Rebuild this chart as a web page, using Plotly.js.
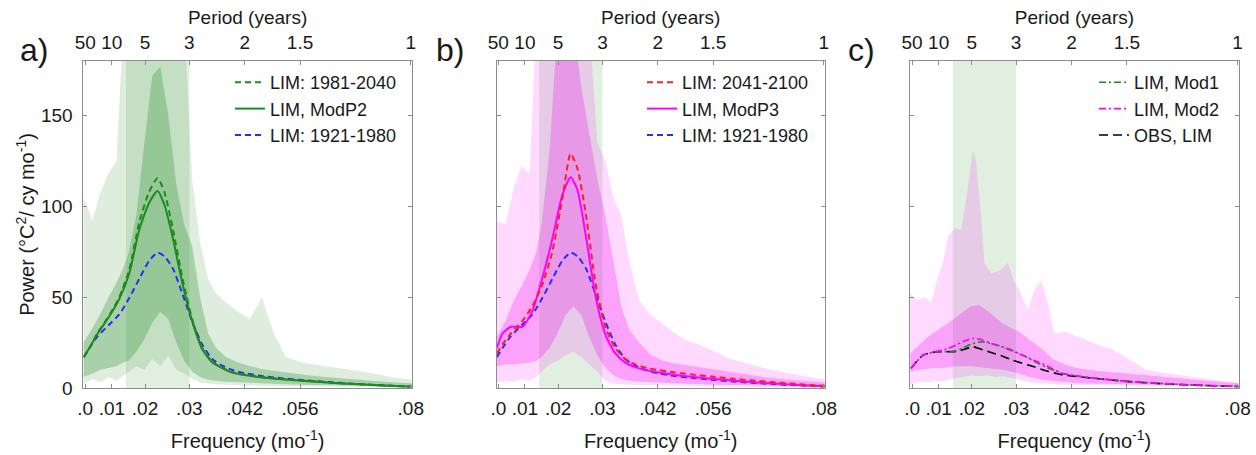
<!DOCTYPE html>
<html><head><meta charset="utf-8">
<script src="https://cdn.plot.ly/plotly-3.0.1.min.js"></script>
<style>html,body{margin:0;padding:0;background:#fff}#chart{width:1256px;height:455px}</style>
</head><body><div id="chart"></div>
<script>
// ---------- DATA ----------
const periodTicks = [50, 10, 5, 3, 2, 1.5, 1];                 // years (top axis)
const freqTickText = ['.0', '.01', '.02', '.03', '.042', '.056', '.08']; // bottom axis labels
const ensoPeriods = [7, 3];                                    // shaded 3-7 yr band

// band frequency grid (cycles / month)
const bandFreq = [0.0012, 0.0035, 0.0055, 0.0075, 0.0095, 0.0112, 0.0125, 0.0145, 0.0165, 0.0185, 0.0205, 0.0225, 0.0245, 0.0265, 0.0285, 0.0305, 0.0325, 0.0345, 0.037, 0.04, 0.043, 0.046, 0.049, 0.052, 0.056, 0.06, 0.065, 0.07, 0.075, 0.08, 0.0836];
// panel a bands
const aOuterHi = [105, 92, 108, 118, 125, 200, 200, 200, 200, 200, 200, 200, 200, 200, 115, 80, 60, 52, 47, 42, 38, 50, 30, 17, 14, 12.5, 11, 9.5, 7.5, 5.5, 4.5];
const aOuterLo = [2, 5, 3, 6, 4, 7, 9, 12, 10, 16, 12, 18, 10, 8, 5, 3, 2.5, 2, 1.8, 1.5, 1.3, 1.2, 1.1, 1, 0.9, 0.8, 0.7, 0.6, 0.5, 0.4, 0.4];
const aInnerHi = [25, 33, 41, 50, 58, 66, 74, 95, 135, 172, 177, 150, 112, 90, 78, 50, 30, 22, 17, 14, 12, 10.5, 9.5, 8.5, 7.5, 6.5, 5.5, 4.5, 3.7, 3, 2.6];
const aInnerLo = [6, 8, 10, 11, 12, 14, 15, 20, 27, 36, 42, 38, 25, 15, 9, 6, 4.5, 4, 3.5, 3, 2.7, 2.5, 2.3, 2, 1.8, 1.6, 1.4, 1.2, 1, 0.8, 0.7];
// panel b bands
const bOuterHi = [92, 90, 110, 122, 118, 200, 200, 200, 200, 200, 200, 200, 200, 135, 125, 105, 95, 70, 48, 40, 35, 30, 26, 24, 20, 16, 13, 10, 8, 6, 4.5];
const bOuterLo = [3, 4, 3.5, 5, 4, 6, 9, 13, 15, 18, 20, 17, 13, 9, 4, 2.5, 2, 1.8, 1.6, 1.4, 1.3, 1.2, 1.1, 1, 0.9, 0.8, 0.7, 0.6, 0.5, 0.4, 0.4];
const bInnerHi = [28, 37, 48, 56, 65, 75, 90, 130, 200, 200, 200, 165, 140, 115, 95, 70, 45, 32, 25, 18, 15, 13.5, 12.5, 11.5, 10, 8.5, 7, 5.5, 4.5, 3.5, 3];
const bInnerLo = [12, 13, 13, 13.5, 14, 15, 17, 22, 30, 40, 45, 40, 28, 18, 11, 7, 5, 4, 3.5, 3, 2.7, 2.5, 2.3, 2, 1.8, 1.6, 1.4, 1.2, 1, 0.8, 0.7];
// panel c bands
const cOuterHiFreq = [0.0012, 0.0030, 0.0048, 0.0065, 0.0081, 0.0095, 0.0106, 0.0123, 0.0140, 0.0156, 0.0169, 0.0177, 0.0190, 0.0198, 0.0215, 0.0240, 0.0257, 0.0274, 0.0286, 0.0307, 0.0324, 0.0341, 0.0357, 0.0374, 0.040, 0.0437, 0.048, 0.052, 0.056, 0.0604, 0.066, 0.073, 0.078, 0.0836];
const cOuterHi = [52, 48, 50, 47, 61, 70, 83, 88, 87, 109, 131, 125, 94, 69, 63, 65, 69, 58, 54, 43, 54, 59, 47, 30, 31, 28, 24, 21, 16, 10, 8, 6, 4.5, 2.7];
const cOuterLo = [2, 3.5, 3, 4, 3.5, 5, 5.5, 6, 7, 6.5, 7, 6, 6.5, 5.5, 4.5, 3.5, 2.8, 2.4, 2, 1.8, 1.6, 1.5, 1.3, 1.2, 1.1, 1, 0.8, 0.7, 0.6, 0.5, 0.4];
const cInnerHi = [19, 24, 28, 31, 34, 37, 38.5, 42, 45, 45.5, 42.5, 39, 35.5, 33, 31, 27.5, 24, 21, 16, 13, 11, 10, 9.2, 8.7, 8, 7.2, 6, 5, 4, 3.2, 2.7];
const cInnerLo = [9, 10, 10.5, 11, 11, 11.5, 12, 12, 12, 11.5, 11, 10.5, 10, 9, 8, 6.5, 5.5, 4.5, 3.8, 3.2, 2.8, 2.5, 2.2, 2, 1.8, 1.6, 1.4, 1.2, 1, 0.8, 0.7];

// spectra (panels a, b)
const lineFreq = [0.0013, 0.0027, 0.0048, 0.0077, 0.0102, 0.0127, 0.0152, 0.0177, 0.0198, 0.0215, 0.0236, 0.0261, 0.0286, 0.031, 0.0335, 0.036, 0.039, 0.042, 0.046, 0.05, 0.055, 0.06, 0.065, 0.07, 0.075, 0.08, 0.0835];
const lim1981 = [17, 22, 30.5, 40, 50, 65, 91, 108, 115.5, 108, 88, 60, 37, 22, 14.5, 11.2, 8.4, 7.2, 6, 5.2, 4.3, 3.5, 2.7, 2.1, 1.6, 1.1, 0.8];
const modP2   = [17, 22, 30, 39.5, 49, 63, 87, 102, 108.5, 101, 83, 57, 36, 21.5, 14.2, 11, 8.2, 7, 5.8, 5, 4.1, 3.4, 2.6, 2, 1.5, 1, 0.7];
const lim1921 = [17, 22, 28.5, 35, 40.5, 49.5, 60, 70, 74.5, 72.5, 66, 51.5, 36, 24, 16, 12.3, 9.6, 8, 6.6, 5.6, 4.6, 3.7, 2.9, 2.2, 1.6, 1.1, 0.8];
const lim2041 = [19, 24, 30, 37, 45, 57, 75, 104, 129, 121, 96, 57, 33, 22, 16, 13, 11, 9.8, 8.5, 7.5, 6.3, 5.2, 4.2, 3.3, 2.5, 1.6, 1.2];
const modP3   = [22, 30, 33.7, 33.7, 42.5, 60.5, 82, 106, 116, 109, 84, 50, 29, 19, 14, 11.5, 9.7, 8.5, 7.2, 6.2, 5.1, 4.2, 3.3, 2.6, 1.9, 1.3, 1.0];
// spectra (panel c)
const cLineFreq = [0.0014, 0.003, 0.0044, 0.0065, 0.0085, 0.0105, 0.0127, 0.0144, 0.0169, 0.0194, 0.0215, 0.0244, 0.027, 0.03, 0.0325, 0.0353, 0.0378, 0.0395, 0.0437, 0.0479, 0.0562, 0.065, 0.075, 0.0838];
const mod1   = [10.8, 15, 18, 19.5, 20, 20, 20.5, 22, 24.5, 25.5, 24.5, 22.7, 20.5, 17.5, 14.5, 11.5, 9.3, 8, 6.5, 5.3, 3.6, 2.4, 1.4, 0.8];
const mod2   = [10.8, 15, 18, 19.5, 20.5, 21.5, 23.6, 25.5, 27.3, 26.4, 24.5, 22.5, 20.2, 17.5, 15, 12.5, 9.5, 8, 6.3, 5.3, 3.6, 2.4, 1.4, 0.8];
const obsLim = [10.8, 15, 18, 19.5, 20, 20, 20, 21, 22.7, 21, 19.5, 17.5, 15.2, 13.2, 11.5, 9.5, 8, 7.2, 6.2, 5.2, 3.5, 2.3, 1.4, 0.8];

// ---------- STYLE ----------
const FONT = 'Liberation Sans, Arial, Helvetica, sans-serif';
const TXT = '#1a1a1a';
const AXC = '#8c8c8c';
const W = 1256, H = 455;
const plotTop = 61, plotBot = 388;
const panels = [[83.4, 411.8], [496.5, 824.9], [910.2, 1238.6]];
const xRange = [0.0012, 0.0836];
const yRange = [0, 180];
const G_OUT = 'rgba(20,130,20,0.14)', G_IN = 'rgba(20,130,20,0.26)';
const M_OUT = 'rgba(255,0,255,0.15)', M_IN = 'rgba(240,0,240,0.25)';
const RECT = 'rgba(20,130,20,0.13)';
const GREEN = '#1c8a1c', BLUE = '#2a2aff', RED = '#ff1f1f', MAG = '#ff00ff';

const toFreq = p => 1 / (12 * p);
const tickFreq = periodTicks.map(toFreq);

function band(fHi, hi, fLo, lo, n, color) {
  return {x: fHi.concat(fLo.slice().reverse()), y: hi.concat(lo.slice().reverse()),
    xaxis: 'x' + (n === 1 ? '' : n), yaxis: 'y' + (n === 1 ? '' : n),
    type: 'scatter', mode: 'lines', fill: 'toself', fillcolor: color, line: {width: 0},
    hoverinfo: 'skip', showlegend: false};
}
function line(fx, vals, n, color, dash, width, name, rank) {
  return {x: fx, y: vals, xaxis: 'x' + (n === 1 ? '' : n), yaxis: 'y' + (n === 1 ? '' : n),
    type: 'scatter', mode: 'lines', line: {color: color, dash: dash, width: width, shape: 'spline', smoothing: 0.6},
    name: name, legend: n === 1 ? 'legend' : 'legend' + n, legendrank: rank, showlegend: true};
}

const traces = [
  band(bandFreq, aOuterHi, bandFreq, aOuterLo, 1, G_OUT),
  band(bandFreq, aInnerHi, bandFreq, aInnerLo, 1, G_IN),
  line(lineFreq, lim1921, 1, BLUE, '6px,4px', 2, 'LIM: 1921-1980', 3),
  line(lineFreq, modP2, 1, GREEN, 'solid', 2, 'LIM, ModP2', 2),
  line(lineFreq, lim1981, 1, GREEN, '6px,4px', 2, 'LIM: 1981-2040', 1),

  band(bandFreq, bOuterHi, bandFreq, bOuterLo, 2, M_OUT),
  band(bandFreq, bInnerHi, bandFreq, bInnerLo, 2, M_IN),
  line(lineFreq, lim1921, 2, BLUE, '6px,4px', 2, 'LIM: 1921-1980', 3),
  line(lineFreq, modP3, 2, MAG, 'solid', 2, 'LIM, ModP3', 2),
  line(lineFreq, lim2041, 2, RED, '6px,4px', 2, 'LIM: 2041-2100', 1),

  band(cOuterHiFreq, cOuterHi, bandFreq, cOuterLo, 3, M_OUT),
  band(bandFreq, cInnerHi, bandFreq, cInnerLo, 3, M_IN),
  line(cLineFreq, obsLim, 3, '#000000', '9px,5px', 1.6, 'OBS, LIM', 3),
  line(cLineFreq, mod1, 3, GREEN, '7px,3px,2px,3px', 1.6, 'LIM, Mod1', 1),
  line(cLineFreq, mod2, 3, MAG, '7px,3px,2px,3px', 1.6, 'LIM, Mod2', 2)
];
// invisible carriers for the top (period) axes
for (let i = 4; i <= 6; i++) {
  traces.push({x: tickFreq, y: tickFreq.map(() => 0), xaxis: 'x' + i, yaxis: 'y' + (i === 4 ? '' : i - 3),
    type: 'scatter', mode: 'markers', marker: {opacity: 0}, hoverinfo: 'skip', showlegend: false});
}

const layout = {
  width: W, height: H, margin: {l: 0, r: 0, t: 0, b: 0},
  paper_bgcolor: '#fff', plot_bgcolor: '#fff',
  font: {family: FONT, color: TXT, size: 19},
  shapes: [], annotations: []
};
const yDom = [1 - plotBot / H, 1 - plotTop / H];
for (let i = 1; i <= 3; i++) {
  const s = i === 1 ? '' : String(i);
  const dom = [panels[i - 1][0] / W, panels[i - 1][1] / W];
  layout['xaxis' + s] = {domain: dom, range: xRange, anchor: 'y' + s, tickmode: 'array', tickvals: tickFreq, ticktext: freqTickText,
    ticks: 'inside', ticklen: 4, tickcolor: AXC, showline: true, linecolor: AXC, linewidth: 1, mirror: false,
    showgrid: false, zeroline: false, automargin: false, ticklabelstandoff: 3, tickfont: {size: 19, color: TXT},
    title: {text: 'Frequency (mo<sup>-1</sup>)', font: {size: 20, color: TXT}, standoff: 16}};
  layout['xaxis' + (i + 3)] = {overlaying: 'x' + s, side: 'top', anchor: 'y' + s, range: xRange, tickmode: 'array', tickvals: tickFreq,
    ticktext: periodTicks.map(String), ticks: 'inside', ticklen: 4, tickcolor: AXC, showline: true, linecolor: AXC, linewidth: 1,
    showgrid: false, zeroline: false, automargin: false, ticklabelstandoff: 3, tickfont: {size: 19, color: TXT},
    title: {text: 'Period (years)', font: {size: 19, color: TXT}, standoff: 2}};
  layout['yaxis' + s] = {domain: yDom, range: yRange, anchor: 'x' + s, tickmode: 'array', tickvals: [0, 50, 100, 150],
    ticks: 'inside', ticklen: 4, tickcolor: AXC, showline: true, linecolor: AXC, linewidth: 1, mirror: 'ticks',
    showgrid: false, zeroline: false, automargin: false, showticklabels: i === 1, ticklabelstandoff: 6,
    tickfont: {size: 19, color: TXT}};
  // ENSO 3-7 yr band
  layout.shapes.push({type: 'rect', xref: 'x' + s, yref: 'y' + s + ' domain', x0: toFreq(ensoPeriods[0]), x1: toFreq(ensoPeriods[1]),
    y0: 0, y1: 1, fillcolor: RECT, line: {width: 0}, layer: 'below'});
}
layout.yaxis.title = {text: 'Power (\u00B0C<sup>2</sup>/ cy mo<sup>-1</sup>)', font: {size: 20, color: TXT}, standoff: 0};

const legBase = {bgcolor: 'rgba(0,0,0,0)', borderwidth: 0, font: {size: 18, color: TXT}, xanchor: 'left', yanchor: 'top',
  itemwidth: 30, tracegroupgap: 0, traceorder: 'normal', y: 1 - 64 / H};
layout.legend = Object.assign({}, legBase, {x: 230 / W});
layout.legend2 = Object.assign({}, legBase, {x: 642 / W});
layout.legend3 = Object.assign({}, legBase, {x: 1094 / W});

[['a)', 34], ['b)', 450], ['c)', 861]].forEach(([t, px]) => {
  layout.annotations.push({text: t, xref: 'paper', yref: 'paper', x: px / W, y: 1 - 50 / H, xanchor: 'center', yanchor: 'middle',
    showarrow: false, font: {size: 32, color: TXT}});
});

Plotly.newPlot('chart', traces, layout, {displayModeBar: false, staticPlot: true});
</script>
</body></html>
